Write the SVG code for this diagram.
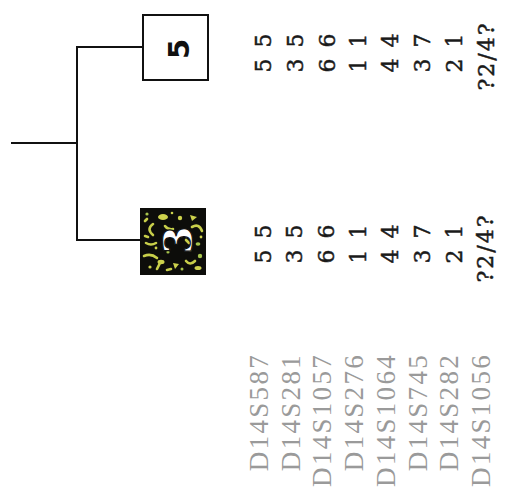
<svg xmlns="http://www.w3.org/2000/svg" width="508" height="502" viewBox="0 0 508 502">
<style>
.ln{stroke:#111;stroke-width:2;fill:none;stroke-linecap:square}
.sp{fill:#cdd24c}
.sg{fill:#a6c44c}
.sa{fill:none;stroke:#c8cf4a;stroke-width:2.6;stroke-linecap:round}
</style>
<rect width="508" height="502" fill="#fff"/>
<g id="connectors">
<path class="ln" d="M12,143 H77"/>
<path class="ln" d="M77,47 V240"/>
<path class="ln" d="M77,47 H143"/>
<path class="ln" d="M77,240 H140"/>
</g>
<g id="node-5">
<rect x="143" y="15" width="65" height="65" fill="#fff" stroke="#111" stroke-width="2"/>
<text transform="translate(178,49) rotate(-90)" x="0" y="10.5" font-family="'DejaVu Sans','Liberation Sans',sans-serif" font-weight="bold" font-size="29" text-anchor="middle" fill="#111">5</text>
</g>
<g id="node-3">
<rect x="140" y="208" width="66" height="67" fill="#0d0d0a"/>
<ellipse class="sp" cx="163" cy="217" rx="5" ry="3"/>
<circle class="sp" cx="180" cy="218" r="2.2"/>
<path class="sp" d="M190,215 l7,2 l-5,4 z"/>
<path class="sa" d="M153,224 q-7,5 0,11"/>
<path class="sa" d="M192,227 q7,-4 10,4"/>
<path class="sa" d="M165,226 q3,4 8,3"/>
<circle class="sg" cx="184" cy="232" r="1.6"/>
<path class="sa" d="M146,243 q5,3 10,0"/>
<path class="sa" d="M145,236 l3,1"/>
<ellipse class="sg" cx="198" cy="244" rx="2.4" ry="1.8"/>
<path class="sa" d="M144,256 q7,-3 13,2"/>
<ellipse class="sp" cx="161" cy="262" rx="3.5" ry="2.2"/>
<path class="sa" d="M157,269 l3,-6"/>
<circle class="sp" cx="150" cy="267" r="1.6"/>
<path class="sp" d="M173,263 l6,1 l-4,5 z"/>
<path class="sa" d="M186,261 q4,5 9,0"/>
<circle class="sg" cx="200" cy="256" r="2.2"/>
<ellipse class="sp" cx="198" cy="268" rx="3.5" ry="2"/>
<circle class="sg" cx="168" cy="252" r="1.6"/>
<circle class="sp" cx="190" cy="250" r="1.5"/>
<circle class="sg" cx="147" cy="214" r="1.6"/>
<circle class="sp" cx="156" cy="248" r="1.4"/>
<path class="sa" d="M186,240 l3,3"/>
<circle class="sp" cx="201" cy="237" r="1.4"/>
<circle class="sg" cx="182" cy="269" r="1.5"/>
<path class="sa" d="M145,221 l2,-2"/>
<circle class="sp" cx="172" cy="213" r="1.3"/>
<path class="sa" d="M167,270 l4,-1"/>
<text transform="translate(177,240) rotate(-90)" x="0" y="15" font-family="'DejaVu Serif','Liberation Serif',serif" font-weight="bold" font-size="40" text-anchor="middle" fill="#fff" stroke="#111" stroke-width="1.2">3</text>
</g>
<g id="alleles-5" font-family="'DejaVu Serif','Liberation Serif',serif" font-size="22" letter-spacing="2" text-anchor="middle" fill="#1a1a1a" stroke="#1a1a1a" stroke-width="0.5">
<text transform="translate(263,52) rotate(-90)" y="8">5 5</text>
<text transform="translate(294.5,52) rotate(-90)" y="8">3 5</text>
<text transform="translate(326.5,52) rotate(-90)" y="8">6 6</text>
<text transform="translate(358,52) rotate(-90)" y="8">1 1</text>
<text transform="translate(390,52) rotate(-90)" y="8">4 4</text>
<text transform="translate(422,52) rotate(-90)" y="8">3 7</text>
<text transform="translate(454,52) rotate(-90)" y="8">2 1</text>
<text transform="translate(485.5,56) rotate(-90)" y="8">?2/4?</text>
</g>
<g id="alleles-3" font-family="'DejaVu Serif','Liberation Serif',serif" font-size="22" letter-spacing="2" text-anchor="middle" fill="#1a1a1a" stroke="#1a1a1a" stroke-width="0.5">
<text transform="translate(262.5,243) rotate(-90)" y="8">5 5</text>
<text transform="translate(294,243) rotate(-90)" y="8">3 5</text>
<text transform="translate(326,243) rotate(-90)" y="8">6 6</text>
<text transform="translate(358,243) rotate(-90)" y="8">1 1</text>
<text transform="translate(389.5,243) rotate(-90)" y="8">4 4</text>
<text transform="translate(422,243) rotate(-90)" y="8">3 7</text>
<text transform="translate(453.5,243) rotate(-90)" y="8">2 1</text>
<text transform="translate(485,248) rotate(-90)" y="8">?2/4?</text>
</g>
<g id="markers" font-family="'Liberation Serif','Times New Roman',serif" font-size="27" letter-spacing="2.3" text-anchor="end" fill="#9a9a9a">
<text transform="translate(259,353) rotate(-90)" y="9">D14S587</text>
<text transform="translate(291,353) rotate(-90)" y="9">D14S281</text>
<text transform="translate(322,353) rotate(-90)" y="9">D14S1057</text>
<text transform="translate(353.5,353) rotate(-90)" y="9">D14S276</text>
<text transform="translate(386,353) rotate(-90)" y="9">D14S1064</text>
<text transform="translate(418,353) rotate(-90)" y="9">D14S745</text>
<text transform="translate(449,353) rotate(-90)" y="9">D14S282</text>
<text transform="translate(481,353) rotate(-90)" y="9">D14S1056</text>
</g>
</svg>
